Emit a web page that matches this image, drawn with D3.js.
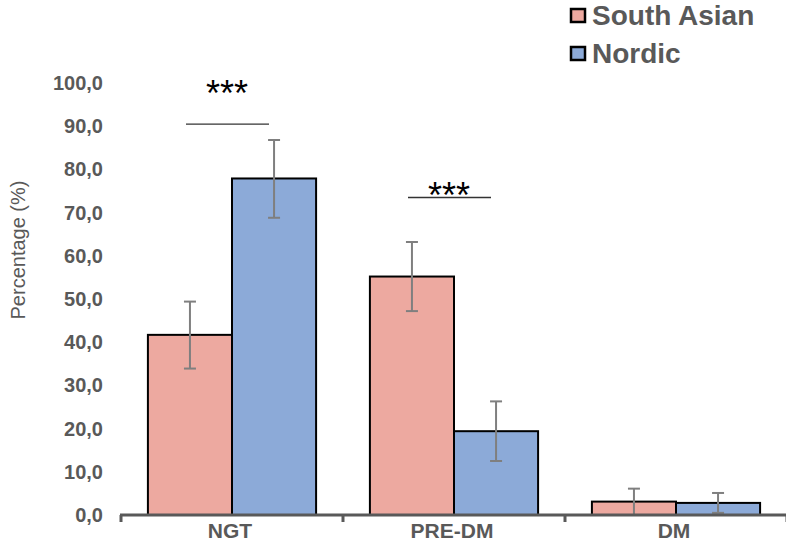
<!DOCTYPE html>
<html><head><meta charset="utf-8">
<script src="https://cdn.jsdelivr.net/npm/d3@7"></script>
<style>body{margin:0;background:#fff}svg{display:block}</style>
</head><body>
<svg id="c" width="786" height="554"></svg>
<script>
const categories = ["NGT", "PRE-DM", "DM"];
const seriesNames = ["South Asian", "Nordic"];
const southAsian = [41.7, 55.2, 3.1];
const nordic = [77.9, 19.4, 2.8];
const southAsianLow = [33.9, 47.2, 0.0];
const southAsianHigh = [49.4, 63.2, 6.1];
const nordicLow = [68.8, 12.5, 0.5];
const nordicHigh = [86.8, 26.3, 5.1];
const yTicks = [0, 10, 20, 30, 40, 50, 60, 70, 80, 90, 100];
const sigCategories = ["NGT", "PRE-DM"];
const sigLabels = ["***", "***"];
const sigLineLevels = [90.5, 73.5];
const sigStarLevels = [99.2, 75.6];

const colors = ["#EDA9A0", "#8CAAD8"];
const font = "Liberation Sans, Arial, sans-serif";
const svg = d3.select("#c");
const x = d3.scaleBand().domain(categories).range([121, 787]).paddingInner(0).paddingOuter(0);
const y = d3.scaleLinear().domain([0, 100]).range([515, 83]);
const inner = d3.scaleBand().domain(seriesNames).range([0, x.bandwidth()]).paddingInner(0).paddingOuter(0.32);

// y tick labels
svg.append("g").selectAll("text").data(yTicks).join("text")
  .attr("x", 103).attr("y", d => y(d)).attr("dy", "0.35em")
  .attr("text-anchor", "end")
  .attr("font-family", font).attr("font-weight", "bold")
  .attr("font-size", 20).attr("fill", "#595959")
  .text(d => d.toFixed(1).replace(".", ","));

svg.append("text").attr("transform", "translate(18,250) rotate(-90)")
  .attr("text-anchor", "middle").attr("dy", "0.35em")
  .attr("font-family", font)
  .attr("font-size", 20).attr("fill", "#595959").text("Percentage (%)");

const data = [];
categories.forEach((c, i) => {
  data.push({cat: c, s: seriesNames[0], v: southAsian[i], lo: southAsianLow[i], hi: southAsianHigh[i], col: colors[0]});
  data.push({cat: c, s: seriesNames[1], v: nordic[i], lo: nordicLow[i], hi: nordicHigh[i], col: colors[1]});
});

svg.append("g").selectAll("rect").data(data).join("rect")
  .attr("x", d => x(d.cat) + inner(d.s)).attr("width", inner.bandwidth())
  .attr("y", d => y(d.v)).attr("height", d => y(0) - y(d.v))
  .attr("fill", d => d.col).attr("stroke", "#000").attr("stroke-width", 2);

// error bars
const eb = svg.append("g").attr("stroke", "#7F7F7F").attr("stroke-width", 2);
data.forEach(d => {
  const cx = x(d.cat) + inner(d.s) + inner.bandwidth() / 2;
  eb.append("line").attr("x1", cx).attr("x2", cx).attr("y1", y(d.lo)).attr("y2", y(d.hi));
  eb.append("line").attr("x1", cx - 6).attr("x2", cx + 6).attr("y1", y(d.hi)).attr("y2", y(d.hi));
  eb.append("line").attr("x1", cx - 6).attr("x2", cx + 6).attr("y1", y(d.lo)).attr("y2", y(d.lo));
});

// x axis
const xAxis = d3.axisBottom(x).tickSize(0).tickFormat("");
const ax = svg.append("g").attr("transform", "translate(0,515)").call(xAxis);
ax.select(".domain").remove();
ax.append("line").attr("x1", 120).attr("x2", 787).attr("stroke", "#595959").attr("stroke-width", 3);
const bounds = categories.map(c => x(c)).concat([x.range()[1]]);
ax.selectAll(".bd").data(bounds).join("line").attr("class", "bd")
  .attr("x1", d => d).attr("x2", d => d).attr("y1", 0).attr("y2", 7)
  .attr("stroke", "#595959").attr("stroke-width", 3);
svg.append("g").selectAll("text").data(categories).join("text")
  .attr("x", c => x(c) + x.bandwidth() / 2 - 2).attr("y", 538)
  .attr("text-anchor", "middle")
  .attr("font-family", font).attr("font-weight", "bold")
  .attr("font-size", 21).attr("fill", "#595959").text(c => c);

// significance
sigCategories.forEach((c, i) => {
  const cx = x(c) + x.bandwidth() / 2 - 4;
  svg.append("line").attr("x1", cx - 42).attr("x2", cx + 41)
    .attr("y1", y(sigLineLevels[i])).attr("y2", y(sigLineLevels[i])).attr("stroke", "#333").attr("stroke-width", 1.3);
  svg.append("text").attr("x", cx - 1).attr("y", y(sigStarLevels[i]) + 20).attr("text-anchor", "middle")
    .attr("font-family", font).attr("font-size", 36)
    .attr("fill", "#000").text(sigLabels[i]);
});

// legend
const lg = svg.append("g");
seriesNames.forEach((n, i) => {
  const yy = 25 + i * 38;
  lg.append("rect").attr("x", 571).attr("y", yy - 16).attr("width", 14).attr("height", 13)
    .attr("fill", colors[i]).attr("stroke", "#000").attr("stroke-width", 2.5);
  lg.append("text").attr("x", 592).attr("y", yy)
    .attr("font-family", font).attr("font-weight", "bold")
    .attr("font-size", 28).attr("fill", "#595959").text(n);
});
</script>
</body></html>
